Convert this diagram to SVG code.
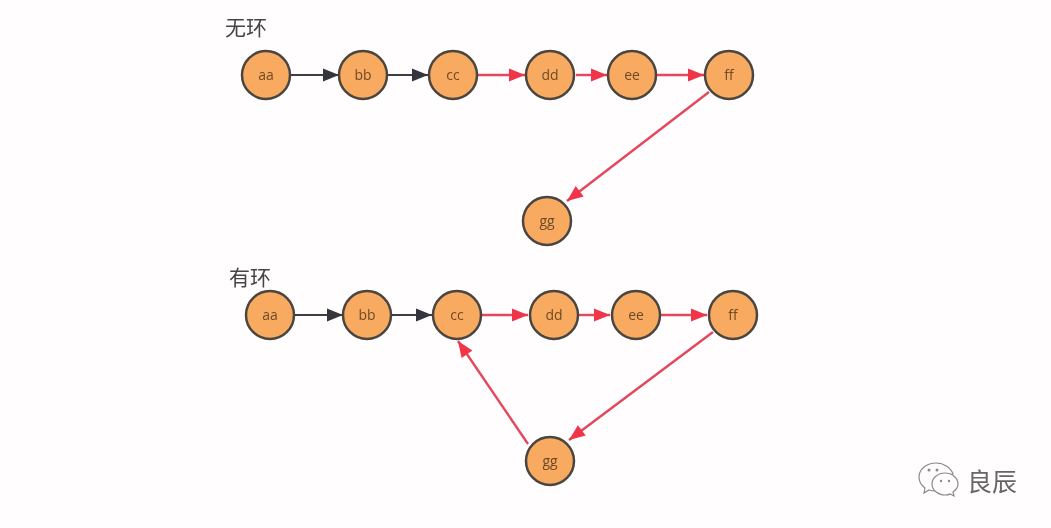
<svg xmlns="http://www.w3.org/2000/svg" width="1051" height="528" viewBox="0 0 1051 528">
<defs>
<filter id="soft" x="0" y="0" width="100%" height="100%"><feGaussianBlur stdDeviation="0.45"/></filter>
<marker id="ad" markerUnits="userSpaceOnUse" markerWidth="18" markerHeight="14" refX="17" refY="7" orient="auto"><path d="M1 0.5L17 7L1 13.5Z" fill="#34343c"/></marker>
<marker id="ar" markerUnits="userSpaceOnUse" markerWidth="18" markerHeight="14" refX="17" refY="7" orient="auto"><path d="M1 0.5L17 7L1 13.5Z" fill="#f0344a"/></marker>
</defs>
<style>
.n{fill:#f8ab60;stroke:#4a4540;stroke-width:2.5}
.t{font:14px "Open Sans","Liberation Sans",sans-serif;fill:#6e4a26;text-anchor:middle}
.d{stroke:#3c3c42;stroke-width:2.2;fill:none;marker-end:url(#ad)}
.r{stroke:#e5475c;stroke-width:2.4;fill:none;marker-end:url(#ar)}
.h{font:21px "Noto Sans CJK SC",sans-serif;fill:#444}
</style>
<rect width="1051" height="528" fill="#fffdfe"/>
<g filter="url(#soft)">
<text class="h" x="225" y="35">无环</text>
<text class="h" x="229" y="285">有环</text>
<g id="connectors">
<path class="d" d="M291 75H339"/><path class="d" d="M388 75H428"/>
<path class="r" d="M478 75H525"/><path class="r" d="M576 75H607"/><path class="r" d="M657 75H704"/>
<path class="r" d="M709 92L567 201"/>
<path class="d" d="M295 315H343"/><path class="d" d="M392 315H432"/>
<path class="r" d="M482 315H528"/><path class="r" d="M579 315H610"/><path class="r" d="M660 315H707"/>
<path class="r" d="M713 332L569 440"/><path class="r" d="M528 444L458 341"/>
</g>
<g id="aa"><circle class="n" cx="266" cy="75" r="24"/><text class="t" x="266" y="80">aa</text></g>
<g id="bb"><circle class="n" cx="363" cy="75" r="24"/><text class="t" x="363" y="80">bb</text></g>
<g id="cc"><circle class="n" cx="453" cy="75" r="24"/><text class="t" x="453" y="80">cc</text></g>
<g id="dd"><circle class="n" cx="550" cy="75" r="24"/><text class="t" x="550" y="80">dd</text></g>
<g id="ee"><circle class="n" cx="632" cy="75" r="24"/><text class="t" x="632" y="80">ee</text></g>
<g id="ff"><circle class="n" cx="729" cy="75" r="24"/><text class="t" x="729" y="80">ff</text></g>
<g id="gg"><circle class="n" cx="547" cy="221" r="24"/><text class="t" x="547" y="226">gg</text></g>
<g id="aa2"><circle class="n" cx="270" cy="315" r="24"/><text class="t" x="270" y="320">aa</text></g>
<g id="bb2"><circle class="n" cx="367" cy="315" r="24"/><text class="t" x="367" y="320">bb</text></g>
<g id="cc2"><circle class="n" cx="457" cy="315" r="24"/><text class="t" x="457" y="320">cc</text></g>
<g id="dd2"><circle class="n" cx="554" cy="315" r="24"/><text class="t" x="554" y="320">dd</text></g>
<g id="ee2"><circle class="n" cx="636" cy="315" r="24"/><text class="t" x="636" y="320">ee</text></g>
<g id="ff2"><circle class="n" cx="733" cy="315" r="24"/><text class="t" x="733" y="320">ff</text></g>
<g id="gg2"><circle class="n" cx="550" cy="461" r="24"/><text class="t" x="550" y="466">gg</text></g>
<g id="wechat" fill="#fffdfe" stroke="#8a8a8a" stroke-width="1.2">
<path d="M936 463c-9 0-17 6-17 14 0 4 2 8 6 11l-1 5 5-3c2 1 5 1 7 1 0 0 2-1 2-1-2-8 5-15 15-16-2-6-9-11-17-11z"/>
<path d="M945 473c-7 0-13 5-13 11s6 11 13 11c2 0 4 0 5-1l4 2-1-4c3-2 5-5 5-8 0-6-6-11-13-11z"/>
<g fill="#8a8a8a" stroke="none"><circle cx="929" cy="470" r="1.5"/><circle cx="937" cy="470" r="1.5"/><circle cx="941" cy="481" r="1.2"/><circle cx="949" cy="481" r="1.2"/></g>
</g>
<text x="967" y="491" style="font:25px 'Noto Sans CJK SC',sans-serif;fill:#666">良辰</text>
</g>
</svg>
